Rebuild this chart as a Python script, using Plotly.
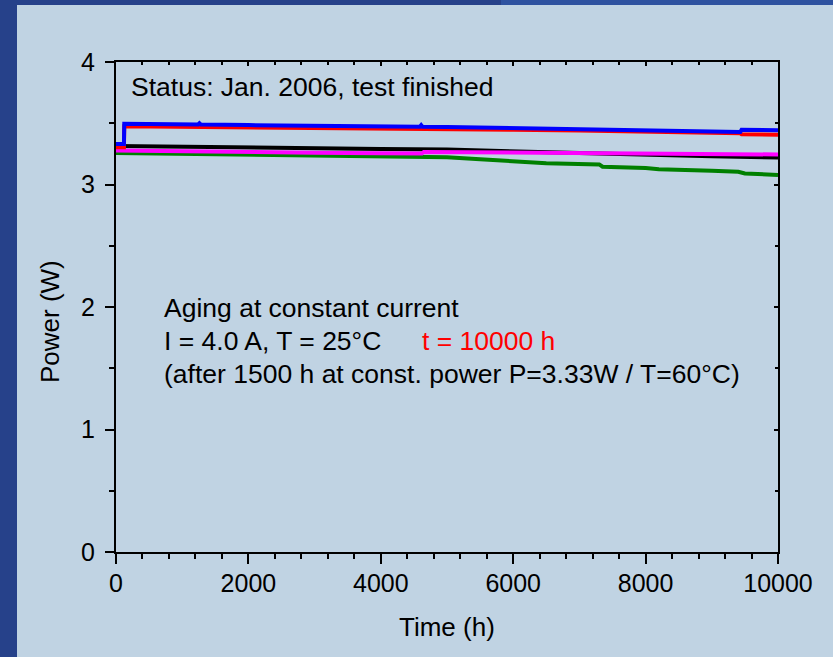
import plotly.graph_objects as go

# ---- data ----
blue_t = [0, 120, 125, 1240, 1260, 1280, 2000, 3000, 4000, 4590, 4610, 4630, 5000, 6000, 7000, 8000, 9000, 9430, 9450, 10000]
blue_p = [3.33, 3.33, 3.495, 3.49, 3.50, 3.49, 3.485, 3.48, 3.475, 3.472, 3.485, 3.472, 3.47, 3.462, 3.455, 3.447, 3.438, 3.428, 3.447, 3.442]

red_t = [0, 120, 125, 2000, 4000, 5000, 6000, 7000, 8000, 9430, 9450, 10000]
red_p = [3.305, 3.305, 3.475, 3.468, 3.458, 3.452, 3.446, 3.44, 3.432, 3.418, 3.41, 3.406]

black_t = [0, 1000, 2000, 3000, 4000, 5000, 6000, 7000, 8000, 9000, 10000]
black_p = [3.315, 3.307, 3.30, 3.295, 3.29, 3.285, 3.27, 3.255, 3.242, 3.23, 3.22]

magenta_t = [0, 1000, 2000, 3000, 4000, 4620, 4650, 5000, 6000, 7000, 8000, 9000, 10000]
magenta_p = [3.278, 3.27, 3.265, 3.26, 3.256, 3.253, 3.266, 3.265, 3.26, 3.255, 3.252, 3.248, 3.245]

green_t = [0, 1000, 2000, 3000, 4000, 5000, 5500, 6000, 6500, 7300, 7350, 8000, 8200, 9000, 9400, 9500, 10000]
green_p = [3.258, 3.25, 3.243, 3.237, 3.231, 3.222, 3.206, 3.186, 3.173, 3.164, 3.145, 3.135, 3.124, 3.113, 3.104, 3.09, 3.078]

series = [
    ("green", green_t, green_p, "#008000"),
    ("black", black_t, black_p, "#000000"),
    ("magenta", magenta_t, magenta_p, "#FF00FF"),
    ("red", red_t, red_p, "#FF0000"),
    ("blue", blue_t, blue_p, "#0000FF"),
]

x_ticks = [0, 2000, 4000, 6000, 8000, 10000]
x_ticktext = ["0", "2000", "4000", "6000", "8000", "10000"]
y_ticks = [0, 1, 2, 3, 4]
y_ticktext = ["0", "1", "2", "3", "4"]

FONT = "Liberation Sans, Arial, sans-serif"
BG = "#C0D3E3"

fig = go.Figure()
for name, t, p, c in series:
    fig.add_trace(go.Scatter(x=t, y=p, mode="lines", name=name,
                             line=dict(color=c, width=4), showlegend=False,
                             hoverinfo="skip"))
# invisible helper trace so the mirrored (inward-tick) axes are drawn
fig.add_trace(go.Scatter(x=blue_t, y=blue_p, mode="lines", xaxis="x2", yaxis="y2",
                         opacity=0, showlegend=False, hoverinfo="skip"))

axis_common = dict(showgrid=False, zeroline=False, showline=True, linecolor="black",
                   linewidth=2, tickcolor="black", tickwidth=2,
                   tickfont=dict(family=FONT, size=25, color="black"))

fig.update_layout(
    width=833, height=657,
    margin=dict(l=116, r=55, t=62, b=105),
    paper_bgcolor=BG, plot_bgcolor=BG,
    font=dict(family=FONT, color="black"),
    xaxis=dict(range=[0, 10000], tickvals=x_ticks, ticktext=x_ticktext,
               ticks="outside", ticklen=10, ticklabelstandoff=-2,
               minor=dict(dtick=400, ticks="outside", ticklen=5, tickcolor="black", tickwidth=2),
               **axis_common),
    yaxis=dict(range=[0, 4], tickvals=y_ticks, ticktext=y_ticktext,
               ticks="outside", ticklen=9, ticklabelstandoff=5,
               minor=dict(dtick=0.5, ticks="outside", ticklen=5, tickcolor="black", tickwidth=2),
               **axis_common),
    xaxis2=dict(range=[0, 10000], overlaying="x", side="top", showticklabels=False,
                tickvals=x_ticks, ticks="inside", ticklen=4,
                minor=dict(dtick=400, ticks="inside", ticklen=3, tickcolor="black", tickwidth=2),
                **axis_common),
    yaxis2=dict(range=[0, 4], overlaying="y", side="right", showticklabels=False,
                tickvals=y_ticks, ticks="inside", ticklen=4,
                minor=dict(dtick=0.5, ticks="inside", ticklen=3, tickcolor="black", tickwidth=2),
                **axis_common),
)

# dark frame strips (left and top) of the slide
fig.add_shape(type="rect", xref="paper", yref="paper", x0=-116/662, x1=(17-116)/662,
              y0=-105/490, y1=552/490, fillcolor="#26418A", line_width=0, layer="above")
fig.add_shape(type="rect", xref="paper", yref="paper", x0=-116/662, x1=(501-116)/662,
              y0=547/490, y1=552/490, fillcolor="#26418A", line_width=0, layer="above")
fig.add_shape(type="rect", xref="paper", yref="paper", x0=(501-116)/662, x1=(833-116)/662,
              y0=547/490, y1=552/490, fillcolor="#2E52A0", line_width=0, layer="above")


def px_x(px):
    return (px - 116) / 662


def px_y(py):
    return (552 - py) / 490


def note(text, xpx, ypx, size, color="black", xanchor="left", angle=0):
    fig.add_annotation(text=text, xref="paper", yref="paper", x=px_x(xpx), y=px_y(ypx),
                       xanchor=xanchor, yanchor="middle", showarrow=False, textangle=angle,
                       font=dict(family=FONT, size=size, color=color))


# axis titles
note("Time (h)", 447, 627, 26, xanchor="center")
note("Power (W)", 50, 322, 26, xanchor="center", angle=-90)

# text boxes
note("Status: Jan. 2006, test finished", 129, 87, 26.5)
note("Aging at constant current", 162, 308, 26.5)
note("I = 4.0 A, T = 25°C", 162, 341, 26.5)
note("t = 10000 h", 420, 341, 26.5, "#FF0000")
note("(after 1500 h at const. power P=3.33W / T=60°C)", 162, 374, 26.5)

fig.write_html("out.html")
